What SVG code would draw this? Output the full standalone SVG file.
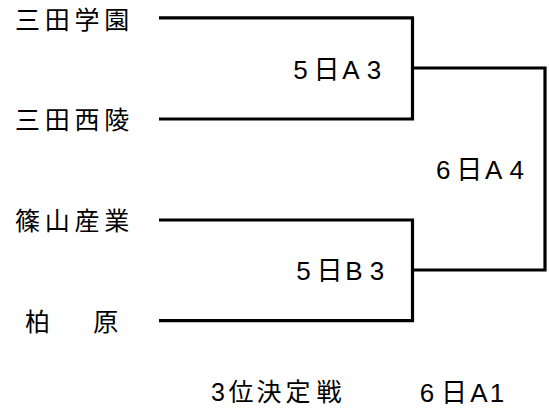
<svg xmlns="http://www.w3.org/2000/svg" width="549" height="411" viewBox="0 0 549 411">
<style>
.bg{fill:#fff}
.ln{fill:none;stroke:#000;stroke-width:3.2;stroke-linejoin:miter;stroke-linecap:butt}
.nm{font-family:"Noto Sans CJK JP","Noto Sans CJK SC",sans-serif;font-size:25px;fill:#000;text-anchor:middle}
.lb{font-family:"Liberation Sans","Noto Sans CJK JP",sans-serif;font-size:26px;fill:#000;text-anchor:middle}
.ft{font-family:"Liberation Sans","Noto Sans CJK JP",sans-serif;font-size:25px;fill:#000;text-anchor:middle}
</style>
<rect class="bg" x="0" y="0" width="549" height="411"/>
<g id="connectors">
<path class="ln" d="M159 17.8 H412.5 V119 H159"/>
<path class="ln" d="M159 220 H412.5 V320.7 H159"/>
<path class="ln" d="M412.5 68 H545 V270 H412.5"/>
</g>
<g id="team-sanda-gakuen"><text class="nm" x="27.5 57.3 87 116.8" y="29.2">三田学園</text></g>
<g id="team-sanda-nishiryo"><text class="nm" x="27.5 57.3 87 116.8" y="129.2">三田西陵</text></g>
<g id="team-sasayama-sangyo"><text class="nm" x="27.5 57.3 87 116.8" y="230.2">篠山産業</text></g>
<g id="team-kaibara"><text class="nm" x="37.5 71.6 105.8" y="330.9">柏　原</text></g>
<g id="match-5a3"><text class="lb" x="300.5 326.5 351 374" y="78.5">5日A3</text></g>
<g id="match-5b3"><text class="lb" x="303.5 329.5 354 377" y="279.5">5日B3</text></g>
<g id="match-6a4"><text class="lb" x="443.2 469.2 493.7 516.7" y="178.5">6日A4</text></g>
<g id="third-place"><text class="ft" x="218 241 269 298 329" y="400.5">3位決定戦</text></g>
<g id="match-6a1"><text class="lb" x="427 454 479 497" y="402">6日A1</text></g>
</svg>
